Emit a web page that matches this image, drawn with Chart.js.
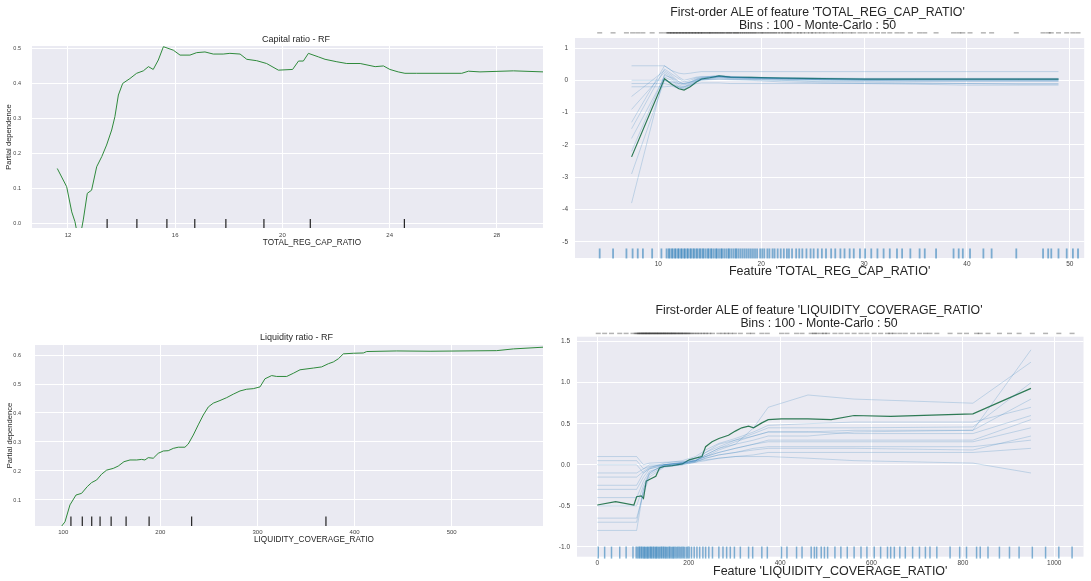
<!DOCTYPE html>
<html><head><meta charset="utf-8">
<script src="https://cdn.jsdelivr.net/npm/chart.js@4.4.1/dist/chart.umd.min.js"></script>
<style>
html,body{margin:0;padding:0;background:#fff}
body{width:1091px;height:581px;overflow:hidden;position:relative}
.box{position:absolute;overflow:hidden;background:#fff}
canvas{display:block}
</style></head><body>
<div class="box" style="left:0;top:0;width:543px;height:260px"><canvas id="c1" width="600" height="260"></canvas></div>
<div class="box" style="left:0;top:290px;width:543px;height:270px"><canvas id="c3" width="600" height="270"></canvas></div>
<div class="box" style="left:550px;top:0;width:541px;height:290px"><canvas id="c2" width="541" height="290"></canvas></div>
<div class="box" style="left:550px;top:290px;width:541px;height:291px"><canvas id="c4" width="541" height="291"></canvas></div>
<script>
// ---------- data ----------
const capXTicks = [12, 16, 20, 24, 28];
const capYTicks = [0, 0.1, 0.2, 0.3, 0.4, 0.5];
const capPdX = [11.6, 11.95, 12.14, 12.26, 12.32, 12.5, 12.57, 12.72, 12.88, 13.07, 13.26, 13.44, 13.63, 13.75, 13.88, 14.04, 14.31, 14.56, 14.81, 15.0, 15.18, 15.37, 15.56, 15.93, 16.18, 16.55, 16.8, 17.11, 17.42, 17.79, 18.04, 18.42, 18.67, 19.04, 19.41, 19.85, 20.38, 20.6, 20.78, 20.97, 21.34, 21.59, 22.03, 22.4, 22.9, 23.46, 23.77, 24.01, 24.32, 24.57, 25.01, 26.69, 26.94, 27.37, 28.62, 29.74];
const capPdY = [0.156, 0.104, 0.032, 0.004, -0.02, -0.02, 0.009, 0.085, 0.094, 0.161, 0.19, 0.223, 0.266, 0.304, 0.366, 0.399, 0.413, 0.428, 0.435, 0.447, 0.439, 0.466, 0.504, 0.494, 0.48, 0.48, 0.487, 0.489, 0.483, 0.483, 0.485, 0.483, 0.468, 0.464, 0.456, 0.437, 0.439, 0.463, 0.463, 0.485, 0.475, 0.468, 0.461, 0.456, 0.456, 0.447, 0.449, 0.439, 0.432, 0.428, 0.428, 0.428, 0.434, 0.432, 0.435, 0.432];
const capDeciles = [13.46, 14.57, 15.69, 16.73, 17.89, 19.31, 21.04, 24.55];

const liqXTicks = [100, 200, 300, 400, 500, 600];
const liqYTicks = [0.1, 0.2, 0.3, 0.4, 0.5, 0.6];
const liqPdX = [98.4, 101.8, 106.9, 113.1, 118.9, 124.7, 129.2, 134.4, 139.5, 144.7, 151.5, 156.6, 162.5, 168.7, 175.6, 180.7, 184.1, 187.5, 192.7, 197.8, 203, 208.1, 213.3, 218.4, 225.3, 228.7, 233.9, 239, 244.2, 249.4, 254.5, 261.4, 268.3, 275.1, 282, 288.9, 295.7, 302.6, 307.7, 314.6, 319.8, 330.1, 336.9, 343.8, 357.5, 366.1, 373, 378.1, 383.3, 388.4, 398.7, 409, 412.5, 443.4, 477.7, 546.3, 563.5, 594.4];
const liqPdY = [0.010, 0.025, 0.083, 0.117, 0.123, 0.146, 0.160, 0.169, 0.189, 0.203, 0.209, 0.217, 0.232, 0.238, 0.238, 0.240, 0.238, 0.246, 0.244, 0.261, 0.269, 0.270, 0.278, 0.282, 0.282, 0.293, 0.324, 0.359, 0.393, 0.421, 0.434, 0.443, 0.453, 0.465, 0.476, 0.482, 0.484, 0.490, 0.518, 0.529, 0.526, 0.526, 0.537, 0.549, 0.555, 0.559, 0.570, 0.576, 0.587, 0.604, 0.606, 0.607, 0.612, 0.614, 0.613, 0.615, 0.621, 0.627];
const liqDeciles = [107.9, 119.6, 129.3, 137.9, 149.3, 164.7, 188.4, 232.2, 370.5];

const aleCapXTicks = [10, 20, 30, 40, 50];
const aleCapYTicks = [-5, -4, -3, -2, -1, 0, 1];
const aleCapX = [7.4, 10.6, 11.3, 12.0, 12.5, 13.1, 13.7, 14.2, 15.0, 15.9, 17.0, 19.0, 22.0, 26.0, 30.0, 35.0, 40.0, 45.0, 48.9];
const aleCapMean = [-2.37, 0.05, -0.12, -0.26, -0.30, -0.20, -0.05, 0.04, 0.08, 0.14, 0.10, 0.09, 0.07, 0.05, 0.04, 0.04, 0.04, 0.04, 0.04];
const aleCapMC1 = [-1.30, 0.45, 0.30, 0.10, 0.00, 0.05, 0.10, 0.12, 0.12, 0.15, 0.12, 0.10, 0.08, 0.06, 0.05, 0.05, 0.05, 0.05, 0.05];
const aleCapMC2 = [-3.80, 0.20, 0.05, -0.15, -0.20, -0.10, 0.00, 0.05, 0.08, 0.10, 0.08, 0.07, 0.05, 0.03, 0.02, 0.02, 0.02, 0.02, 0.02];
const aleCapMC3 = [-0.50, 0.30, 0.15, -0.05, -0.10, -0.05, 0.05, 0.08, 0.10, 0.12, 0.10, 0.08, 0.06, 0.04, 0.03, 0.03, 0.03, 0.03, 0.03];
const aleCapMC4 = [-1.80, 0.10, 0.00, -0.20, -0.25, -0.15, -0.02, 0.03, 0.06, 0.10, 0.07, 0.05, 0.03, 0.01, 0.00, 0.00, 0.00, 0.00, 0.00];
const aleCapMC5 = [-1.50, 0.35, 0.20, 0.05, -0.05, 0.00, 0.08, 0.10, 0.12, 0.14, 0.11, 0.09, 0.08, 0.07, 0.06, 0.06, 0.06, 0.06, 0.06];
const aleCapMC6 = [-2.90, 0.00, -0.08, -0.22, -0.28, -0.18, -0.04, 0.02, 0.05, 0.08, 0.05, 0.03, 0.00, -0.02, -0.03, -0.03, -0.03, -0.03, -0.03];
const aleCapMC7 = [0.45, 0.45, 0.30, 0.22, 0.20, 0.22, 0.25, 0.27, 0.27, 0.27, 0.27, 0.27, 0.27, 0.27, 0.27, 0.27, 0.27, 0.27, 0.27];
const aleCapMC8 = [-0.10, -0.10, -0.15, -0.20, -0.20, -0.15, -0.10, -0.08, -0.08, -0.08, -0.10, -0.10, -0.10, -0.10, -0.10, -0.10, -0.10, -0.10, -0.10];
const aleCapMC9 = [-2.20, 0.15, 0.08, -0.10, -0.15, -0.08, 0.02, 0.06, 0.09, 0.12, 0.09, 0.06, 0.04, 0.02, 0.01, 0.01, 0.01, 0.01, 0.01];
const aleCapMC10 = [-0.90, 0.25, 0.10, -0.05, -0.12, -0.06, 0.03, 0.07, 0.10, 0.12, 0.10, 0.07, 0.05, 0.02, 0.00, -0.02, -0.02, -0.02, -0.02];
const aleCapMC11 = [0.00, 0.00, -0.05, -0.10, -0.10, -0.05, 0.00, 0.02, 0.02, 0.03, 0.02, 0.00, -0.05, -0.08, -0.10, -0.12, -0.15, -0.15, -0.15];
const aleCapMC12 = [-0.20, -0.20, -0.18, -0.25, -0.22, -0.12, -0.04, 0.00, 0.03, 0.05, 0.03, 0.02, 0.00, -0.05, -0.06, -0.08, -0.10, -0.12, -0.12];
const capRug = [4.3, 5.6, 6.9, 7.5, 8.0, 8.5, 9.4, 10.3, 10.8, 11.0, 11.1, 11.3, 11.4, 11.6, 11.7, 11.9, 12.0, 12.2, 12.3, 12.5, 12.6, 12.8, 12.9, 13.1, 13.2, 13.4, 13.5, 13.7, 13.8, 14.0, 14.1, 14.3, 14.4, 14.6, 14.8, 14.9, 15.1, 15.2, 15.4, 15.6, 15.7, 15.9, 16.1, 16.2, 16.4, 16.6, 16.8, 16.9, 17.1, 17.3, 17.5, 17.6, 17.8, 18.0, 18.2, 18.4, 18.6, 18.8, 19.0, 19.2, 19.4, 19.6, 19.9, 20.1, 20.3, 20.6, 20.8, 21.1, 21.3, 21.6, 21.9, 22.2, 22.5, 22.7, 23.0, 23.4, 23.7, 24.0, 24.4, 24.8, 25.1, 25.5, 25.9, 26.3, 26.8, 27.2, 27.7, 28.1, 28.6, 29.0, 29.6, 30.1, 30.7, 31.3, 31.9, 32.5, 33.2, 33.7, 34.5, 35.4, 35.9, 37.0, 38.7, 39.2, 39.6, 40.3, 41.6, 42.4, 44.8, 47.4, 47.9, 48.2, 48.9, 49.7, 50.3, 50.8];

const aleLiqXTicks = [0, 200, 400, 600, 800, 1000];
const aleLiqYTicks = [-1.0, -0.5, 0.0, 0.5, 1.0, 1.5];
const aleLiqX = [0, 40, 80, 86, 96, 101, 107, 114, 128, 136, 146, 164, 186, 201, 215, 229, 237, 251, 266, 287, 302, 316, 331, 342, 360, 374, 403, 461, 512, 562, 642, 822, 949];
const aleLiqMean = [-0.49, -0.45, -0.49, -0.39, -0.38, -0.41, -0.20, -0.18, -0.14, -0.04, -0.02, -0.01, 0.01, 0.06, 0.08, 0.10, 0.22, 0.28, 0.32, 0.36, 0.41, 0.45, 0.47, 0.45, 0.51, 0.55, 0.56, 0.56, 0.55, 0.60, 0.59, 0.62, 0.93];
const aleLiqMCX = [0, 86, 101, 114, 146, 186, 215, 237, 266, 302, 342, 374, 461, 562, 822, 949];
const aleLiqMC1 = [-0.80, -0.80, -0.30, -0.10, 0.00, 0.02, 0.05, 0.12, 0.20, 0.25, 0.30, 0.35, 0.35, 0.40, 0.42, 1.40];
const aleLiqMC2 = [0.05, 0.05, -0.05, -0.02, 0.00, 0.01, 0.03, 0.05, 0.08, 0.10, 0.12, 0.15, 0.15, 0.15, 0.15, 0.20];
const aleLiqMC3 = [-0.25, -0.25, -0.10, -0.05, -0.01, 0.02, 0.05, 0.10, 0.15, 0.20, 0.25, 0.30, 0.30, 0.30, 0.30, 0.55];
const aleLiqMC4 = [-0.65, -0.65, -0.35, -0.15, -0.03, 0.00, 0.04, 0.15, 0.25, 0.30, 0.35, 0.40, 0.40, 0.42, 0.42, 0.80];
const aleLiqMC5 = [-0.10, -0.10, -0.05, 0.00, 0.00, 0.02, 0.04, 0.08, 0.12, 0.15, 0.18, 0.20, 0.20, 0.20, 0.18, 0.35];
const aleLiqMC6 = [-0.40, -0.40, -0.20, -0.08, -0.02, 0.01, 0.05, 0.10, 0.18, 0.25, 0.45, 0.70, 0.85, 0.80, 0.75, 1.25];
const aleLiqMC7 = [-0.50, -0.50, -0.25, -0.10, 0.00, 0.03, 0.06, 0.10, 0.15, 0.20, 0.25, 0.28, 0.28, 0.28, 0.28, 0.45];
const aleLiqMC8 = [0.10, 0.10, 0.00, 0.02, 0.03, 0.04, 0.05, 0.06, 0.08, 0.10, 0.10, 0.10, 0.08, 0.05, 0.02, -0.10];
const aleLiqMC9 = [-0.15, -0.15, -0.08, -0.03, 0.00, 0.02, 0.05, 0.12, 0.20, 0.28, 0.35, 0.40, 0.40, 0.38, 0.38, 0.60];
const aleLiqMC10 = [-0.70, -0.70, -0.30, -0.12, -0.02, 0.00, 0.03, 0.08, 0.12, 0.15, 0.20, 0.22, 0.22, 0.22, 0.22, 0.30];
const aleLiqMC11 = [-0.30, -0.30, -0.15, -0.05, 0.00, 0.03, 0.08, 0.15, 0.22, 0.30, 0.38, 0.45, 0.45, 0.45, 0.46, 1.00];
const aleLiqMC12 = [0.00, 0.00, -0.10, -0.04, 0.02, 0.05, 0.10, 0.18, 0.26, 0.32, 0.40, 0.48, 0.50, 0.52, 0.52, 0.70];
const liqRug = [2, 16, 31, 49, 63, 78, 85, 88, 91, 93, 96, 98, 101, 103, 105, 108, 110, 112, 115, 117, 119, 122, 124, 127, 129, 131, 134, 136, 139, 141, 144, 146, 149, 151, 154, 157, 159, 162, 165, 167, 170, 173, 176, 179, 182, 185, 188, 191, 195, 198, 201, 206, 212, 218, 224, 231, 237, 244, 252, 266, 275, 283, 291, 300, 313, 331, 340, 360, 372, 403, 415, 436, 448, 468, 475, 480, 490, 497, 504, 520, 533, 547, 562, 577, 590, 606, 620, 635, 642, 650, 662, 674, 690, 705, 718, 728, 743, 772, 793, 808, 830, 838, 855, 880, 902, 923, 952, 981, 1010, 1039];

// ---------- rendering ----------
Chart.defaults.font.family = "'Liberation Sans', Arial, sans-serif";
Chart.defaults.color = '#333';
const bgPlugin = { id: 'bg', beforeDraw(c) { const a = c.chartArea, x = c.ctx; x.save(); x.fillStyle = '#eaeaf2'; x.fillRect(a.left, a.top, a.right - a.left, a.bottom - a.top); x.restore(); } };

const pts = (xs, ys) => xs.map((x, i) => ({ x: x, y: ys[i] }));
function lineDS(xs, ys, color, width) {
  return { data: pts(xs, ys), showLine: true, borderColor: color, backgroundColor: color, borderWidth: width, pointRadius: 0, fill: false, tension: 0 };
}
function rugDS(xs, yPos, color, radius, rotation, width) {
  return { data: xs.map(x => ({ x: x, y: yPos })), showLine: false, pointStyle: 'line', pointRadius: radius, pointRotation: rotation,
    pointBorderColor: color, borderColor: color, pointBorderWidth: width, borderWidth: width, clip: false };
}
function scale(o) {
  return {
    type: 'linear', min: o.min, max: o.max,
    afterBuildTicks: s => { s.ticks = o.ticks.map(v => ({ value: v })); },
    afterFit: s => { if (o.h !== undefined) s.height = o.h; if (o.w !== undefined) s.width = o.w; },
    grid: { color: '#ffffff', lineWidth: 1, drawTicks: false },
    border: { display: false },
    ticks: { font: { size: o.fs }, padding: o.pad, color: '#444', maxRotation: 0, autoSkip: false, callback: o.fmt },
    title: o.title ? { display: true, text: o.title, font: { size: o.tfs }, color: '#262626', padding: o.tpad } : { display: false }
  };
}
function make(id, datasets, sx, sy, title, layoutPad) {
  return new Chart(document.getElementById(id), {
    type: 'scatter',
    data: { datasets: datasets },
    options: {
      responsive: false, animation: false, devicePixelRatio: 1, events: [],
      layout: { padding: layoutPad },
      plugins: { legend: { display: false }, tooltip: { enabled: false }, title: title },
      scales: { x: sx, y: sy }
    },
    plugins: [bgPlugin]
  });
}
const f1 = v => v.toFixed(1);
const f0 = v => String(v);

// Panel 1: Capital ratio - RF
make('c1', [
  rugDS(capDeciles, -0.0014, '#222', 4.5, 90, 1.2),
  lineDS(capPdX, capPdY, '#2f8a3c', 1)
], scale({ min: 10.657, max: 31.55, ticks: capXTicks, fs: 6, pad: 3.4, fmt: f0, h: 32, title: 'TOTAL_REG_CAP_RATIO', tfs: 8.2, tpad: { top: 0, bottom: 12.1 } }),
   scale({ min: -0.014, max: 0.506, ticks: capYTicks, fs: 5.5, pad: 11, fmt: f1, w: 32, title: 'Partial dependence', tfs: 7.6, tpad: { top: 4.8, bottom: 0 } }),
   { display: true, text: 'Capital ratio - RF', font: { size: 9, weight: 'normal', lineHeight: 1.2 }, color: '#262626', padding: { top: 34.6, bottom: 0.6 } },
   { left: 0, right: 8, top: 0, bottom: 0 });

// Panel 3: Liquidity ratio - RF
make('c3', [
  rugDS(liqDeciles, 0.0266, '#222', 4.7, 90, 1.2),
  lineDS(liqPdX, liqPdY, '#2f8a3c', 1)
], scale({ min: 70.9, max: 645.5, ticks: liqXTicks, fs: 6, pad: 2.4, fmt: f0, h: 34, title: 'LIQUIDITY_COVERAGE_RATIO', tfs: 8.2, tpad: { top: 0, bottom: 15.1 } }),
   scale({ min: 0.0103, max: 0.6345, ticks: liqYTicks, fs: 5.5, pad: 14, fmt: f1, w: 35, title: 'Partial dependence', tfs: 7.6, tpad: { top: 5.4, bottom: 0 } }),
   { display: true, text: 'Liquidity ratio - RF', font: { size: 9, weight: 'normal', lineHeight: 1.2 }, color: '#262626', padding: { top: 42.6, bottom: 1.6 } },
   { left: 0, right: 7, top: 0, bottom: 0 });

// Panel 2: ALE TOTAL_REG_CAP_RATIO
const mcBlue = 'rgba(31,119,180,0.28)';
make('c2', [
  rugDS(capRug, -5.36, 'rgba(31,119,180,0.55)', 5, 90, 1.8),
  rugDS(capRug, 1.47, 'rgba(40,40,40,0.35)', 2.5, 0, 1.5),
  ...[aleCapMC1, aleCapMC2, aleCapMC3, aleCapMC4, aleCapMC5, aleCapMC6, aleCapMC7, aleCapMC8, aleCapMC9, aleCapMC10, aleCapMC11, aleCapMC12].map(s => lineDS(aleCapX, s, mcBlue, 0.8)),
  lineDS(aleCapX, aleCapMean, '#2e7a55', 1.2)
], scale({ min: 1.9, max: 51.4, ticks: aleCapXTicks, fs: 6.5, pad: 2, fmt: f0, h: 32, title: "Feature 'TOTAL_REG_CAP_RATIO'", tfs: 12.5, tpad: { top: 0, bottom: 10.8 } }),
   scale({ min: -5.5, max: 1.31, ticks: aleCapYTicks, fs: 6.5, pad: 7, fmt: f0, w: 25 }),
   { display: true, text: ["First-order ALE of feature 'TOTAL_REG_CAP_RATIO'", 'Bins : 100 - Monte-Carlo : 50'], font: { size: 12.3, weight: 'normal', lineHeight: 1.057 }, color: '#262626', padding: { top: 6.5, bottom: 5.5 } },
   { left: 0, right: 6, top: 0, bottom: 0 });

// Panel 4: ALE LIQUIDITY_COVERAGE_RATIO
make('c4', [
  rugDS(liqRug, -1.07, 'rgba(31,119,180,0.55)', 6, 90, 1.5),
  rugDS(liqRug, 1.6, 'rgba(40,40,40,0.35)', 2.5, 0, 1.5),
  ...[aleLiqMC1, aleLiqMC2, aleLiqMC3, aleLiqMC4, aleLiqMC5, aleLiqMC6, aleLiqMC7, aleLiqMC8, aleLiqMC9, aleLiqMC10, aleLiqMC11, aleLiqMC12].map(s => lineDS(aleLiqMCX, s, mcBlue, 0.8)),
  lineDS(aleLiqX, aleLiqMean, '#2e7a55', 1.2)
], scale({ min: -44.5, max: 1064, ticks: aleLiqXTicks, fs: 6.5, pad: 2.4, fmt: f0, h: 24.3, title: "Feature 'LIQUIDITY_COVERAGE_RATIO'", tfs: 12.5, tpad: { top: 0, bottom: 1.5 } }),
   scale({ min: -1.12, max: 1.56, ticks: aleLiqYTicks, fs: 6.5, pad: 7, fmt: f1, w: 27 }),
   { display: true, text: ["First-order ALE of feature 'LIQUIDITY_COVERAGE_RATIO'", 'Bins : 100 - Monte-Carlo : 50'], font: { size: 12.3, weight: 'normal', lineHeight: 1.057 }, color: '#262626', padding: { top: 14.5, bottom: 6.2 } },
   { left: 0, right: 3, top: 0, bottom: 0 });
</script>
</body></html>
